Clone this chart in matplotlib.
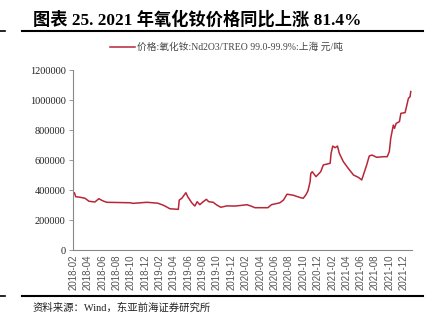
import matplotlib
matplotlib.use("Agg")
import matplotlib.pyplot as plt
import pandas as pd
from matplotlib.lines import Line2D

title = "图表 25. 2021 年氧化钕价格同比上涨 81.4%"
legend_label = "价格:氧化钕:Nd2O3/TREO 99.0-99.9%:上海 元/吨"
source = "资料来源：Wind，东亚前海证券研究所"

dates = [
    "2018-01-28", "2018-02-03", "2018-02-09", "2018-02-26", "2018-03-20", "2018-04-06",
    "2018-05-01", "2018-05-18", "2018-05-28", "2018-06-08", "2018-06-21", "2018-09-27",
    "2018-10-10", "2018-12-08", "2019-01-23", "2019-02-13", "2019-02-26", "2019-03-15",
    "2019-04-20", "2019-04-24", "2019-05-05", "2019-05-22", "2019-05-30", "2019-06-16",
    "2019-06-29", "2019-07-09", "2019-07-20", "2019-08-02", "2019-08-17", "2019-08-27",
    "2019-09-15", "2019-09-30", "2019-10-17", "2019-11-12", "2019-12-16", "2020-01-15",
    "2020-02-05", "2020-02-22", "2020-03-10", "2020-05-04", "2020-05-19", "2020-06-24",
    "2020-07-09", "2020-07-24", "2020-08-20", "2020-09-17", "2020-10-01", "2020-10-13",
    "2020-10-21", "2020-10-30", "2020-11-02", "2020-11-08", "2020-11-24", "2020-12-14",
    "2020-12-25", "2021-01-23", "2021-01-27", "2021-02-03", "2021-02-13", "2021-02-23",
    "2021-03-03", "2021-03-20", "2021-04-10", "2021-05-02", "2021-05-23", "2021-06-06",
    "2021-06-27", "2021-07-08", "2021-07-19", "2021-08-09", "2021-09-06", "2021-09-22",
    "2021-10-01", "2021-10-07", "2021-10-18", "2021-10-23", "2021-10-30", "2021-11-13",
    "2021-11-19", "2021-12-07", "2021-12-21", "2021-12-28", "2021-12-31",
]
prices = [
    367000, 382000, 355000, 352000, 345000, 325000,
    320000, 342000, 333000, 325000, 318000, 315000,
    311000, 318000, 312000, 300000, 290000, 275000,
    271000, 333000, 345000, 382000, 355000, 315000,
    293000, 322000, 302000, 320000, 338000, 322000,
    318000, 300000, 285000, 294000, 293000, 298000,
    302000, 293000, 282000, 282000, 302000, 315000,
    333000, 372000, 365000, 350000, 345000, 370000,
    395000, 455000, 511000, 522000, 489000, 522000,
    567000, 578000, 644000, 693000, 682000, 693000,
    644000, 589000, 544000, 500000, 484000, 467000,
    567000, 627000, 633000, 618000, 622000, 622000,
    656000, 744000, 833000, 811000, 844000, 856000,
    911000, 916000, 1011000, 1022000, 1056000,
]
y_ticks = [0, 200000, 400000, 600000, 800000, 1000000, 1200000]
x_tick_labels = pd.date_range("2018-02-01", "2021-12-01", freq="2MS")

plt.rcParams['font.family'] = ['Liberation Serif', 'Noto Sans CJK SC']

fig = plt.figure(figsize=(4.42, 3.22), dpi=100)
ax = fig.add_axes([0.1645, 0.2236, 0.932 - 0.1645, 0.7826 - 0.2236])

x = pd.to_datetime(dates)
line_color = "#B82638"
ax.plot(x, prices, color=line_color, lw=1.1, solid_joinstyle="round")

ax.set_ylim(0, 1200000)
ax.set_yticks(y_ticks)
ax.set_yticklabels([str(v) for v in y_ticks], fontsize=7.5, color="#222222",
                   family=['Liberation Serif'])
ax.set_xlim(pd.Timestamp("2018-01-27"), pd.Timestamp("2022-01-05"))
ax.set_xticks(x_tick_labels)
ax.set_xticklabels([d.strftime("%Y-%m") for d in x_tick_labels], rotation=90,
                   fontsize=7, color="#555555", family=['Liberation Sans'])
ax.tick_params(axis='x', length=0, pad=3)
ax.tick_params(axis='y', length=3, width=0.6, color="#888888", pad=2)
for s in ["top", "right"]:
    ax.spines[s].set_visible(False)
for s in ["left", "bottom"]:
    ax.spines[s].set_color("#888888")
    ax.spines[s].set_linewidth(0.8)

# Title
fig.text(33 / 442, 1 - 20 / 322, title, fontsize=12.4, fontweight="bold",
         ha="left", va="center", color="black")
fig.add_artist(Line2D([22 / 442, 423 / 442], [1 - 30.5 / 322] * 2, color="black", lw=1.5))
fig.add_artist(Line2D([0, 5 / 442], [1 - 30.5 / 322] * 2, color="black", lw=1.2))

# Legend
fig.add_artist(Line2D([110 / 442, 135 / 442], [1 - 47 / 322] * 2, color=line_color, lw=1.1))
fig.text(137 / 442, 1 - 47 / 322, legend_label, fontsize=7, ha="left", va="center",
         color="#444444")

# Bottom rule and source
fig.add_artist(Line2D([22 / 442, 423 / 442], [1 - 296 / 322] * 2, color="black", lw=1.5))
fig.add_artist(Line2D([0, 5 / 442], [1 - 296 / 322] * 2, color="black", lw=1.2))
fig.text(33 / 442, 1 - 308 / 322, source, fontsize=7.5, ha="left", va="center",
         color="#222222")

fig.savefig("out.png", dpi=100)
